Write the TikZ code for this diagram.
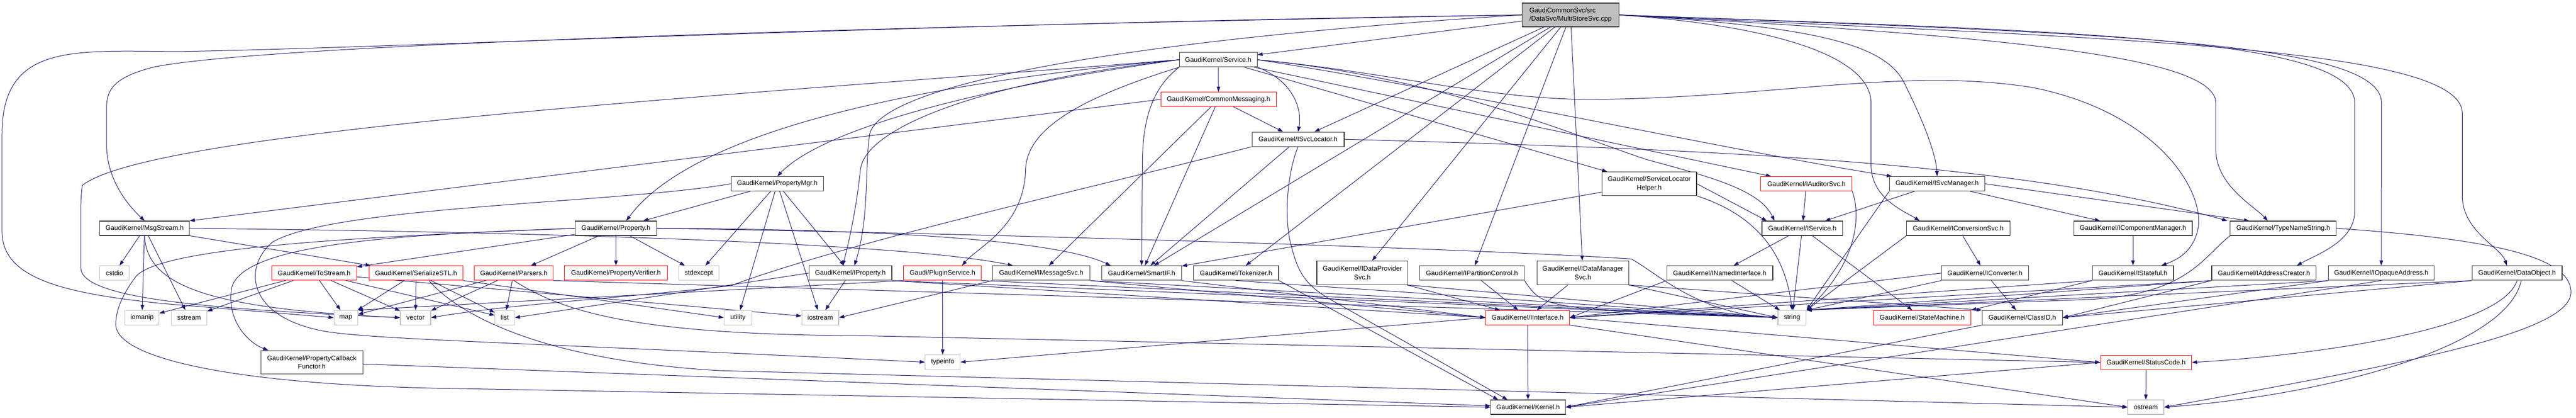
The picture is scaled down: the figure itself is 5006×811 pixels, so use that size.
\documentclass[tikz,border=0pt]{standalone}
\usepackage{fontspec}
\setmainfont{Liberation Sans}
\usetikzlibrary{arrows.meta,calc}
\definecolor{edgec}{HTML}{191970}
\definecolor{sysgray}{HTML}{BFBFBF}
\definecolor{rootfill}{HTML}{BFBFBF}
\pgfdeclarelayer{bg}
\pgfsetlayers{bg,main}
\begin{document}
\begin{tikzpicture}[x=1pt,y=-1pt,
  nb/.style={draw=black!80, line width=1.2pt, fill=white, inner sep=0pt, minimum height=28pt, text=black, font=\fontsize{12.9}{16.5}\selectfont, align=center},
  nred/.style={nb, draw=red, line width=1pt},
  nsys/.style={nb, draw=sysgray},
  nroot/.style={nb, fill=rootfill, align=left},
  e/.style={draw=edgec, line width=1pt, -{Triangle[length=10pt,width=7pt]}},
]
\useasboundingbox (0,0) rectangle (5006,811);

% ---------------- nodes ----------------
\node[nroot, minimum width=188pt, minimum height=46pt] (T) at (3052,29) {GaudiCommonSvc/src\\/DataSvc/MultiStoreSvc.cpp};
\node[nb, minimum width=151pt] (Service) at (2367.5,116) {GaudiKernel/Service.h};
\node[nred, minimum width=224pt] (CM) at (2368,193) {GaudiKernel/CommonMessaging.h};
\node[nb, minimum width=179pt] (ISvcLocator) at (2522.5,270.5) {GaudiKernel/ISvcLocator.h};
\node[nb, minimum width=179pt] (PropertyMgr) at (1510.5,357) {GaudiKernel/PropertyMgr.h};
\node[nb, minimum width=184pt, minimum height=46pt] (SLH) at (3205,357) {GaudiKernel/ServiceLocator\\Helper.h};
\node[nred, minimum width=177pt] (IAuditorSvc) at (3510.5,357) {GaudiKernel/IAuditorSvc.h};
\node[nb, minimum width=185pt] (ISvcManager) at (3764.5,357) {GaudiKernel/ISvcManager.h};
\node[nb, minimum width=174pt] (MsgStream) at (281,443.5) {GaudiKernel/MsgStream.h};
\node[nb, minimum width=158pt] (Property) at (1197,443.5) {GaudiKernel/Property.h};
\node[nb, minimum width=157pt] (IService) at (3502.5,443.5) {GaudiKernel/IService.h};
\node[nb, minimum width=201pt] (IConversionSvc) at (3805.5,443.5) {GaudiKernel/IConversionSvc.h};
\node[nb, minimum width=230pt] (IComponentManager) at (4145,443.5) {GaudiKernel/IComponentManager.h};
\node[nb, minimum width=206pt] (TypeNameString) at (4437,443.5) {GaudiKernel/TypeNameString.h};
\node[nsys, minimum width=57pt] (cstdio) at (222.5,530.5) {cstdio};
\node[nred, minimum width=165pt] (ToStream) at (610.5,530.5) {GaudiKernel/ToStream.h};
\node[nred, minimum width=183pt] (SerializeSTL) at (808.5,530.5) {GaudiKernel/SerializeSTL.h};
\node[nred, minimum width=153pt] (Parsers) at (998.5,530.5) {GaudiKernel/Parsers.h};
\node[nred, minimum width=200pt] (PropertyVerifier) at (1197,530.5) {GaudiKernel/PropertyVerifier.h};
\node[nsys, minimum width=78pt] (stdexcept) at (1358,530.5) {stdexcept};
\node[nb, minimum width=161pt] (IProperty) at (1652.5,530.5) {GaudiKernel/IProperty.h};
\node[nred, minimum width=151pt] (PluginService) at (1831.5,530.5) {Gaudi/PluginService.h};
\node[nb, minimum width=189pt] (IMessageSvc) at (2023.5,530.5) {GaudiKernel/IMessageSvc.h};
\node[nb, minimum width=155pt] (SmartIF) at (2218.5,530.5) {GaudiKernel/SmartIF.h};
\node[nb, minimum width=166pt] (Tokenizer) at (2402,530.5) {GaudiKernel/Tokenizer.h};
\node[nb, minimum width=177pt, minimum height=46pt] (IDataProviderSvc) at (2647.5,530) {GaudiKernel/IDataProvider\\Svc.h};
\node[nb, minimum width=203pt] (IPartitionControl) at (2860.5,530.5) {GaudiKernel/IPartitionControl.h};
\node[nb, minimum width=178pt, minimum height=46pt] (IDataManagerSvc) at (3076,530) {GaudiKernel/IDataManager\\Svc.h};
\node[nb, minimum width=206pt] (INamedInterface) at (3342,530.5) {GaudiKernel/INamedInterface.h};
\node[nb, minimum width=169pt] (IConverter) at (3857.5,530.5) {GaudiKernel/IConverter.h};
\node[nb, minimum width=158pt] (IStateful) at (4145,530.5) {GaudiKernel/IStateful.h};
\node[nb, minimum width=203pt] (IAddressCreator) at (4399.5,530.5) {GaudiKernel/IAddressCreator.h};
\node[nb, minimum width=205pt] (IOpaqueAddress) at (4627.5,530.5) {GaudiKernel/IOpaqueAddress.h};
\node[nb, minimum width=175pt] (DataObject) at (4891.5,530.5) {GaudiKernel/DataObject.h};
\node[nsys, minimum width=66pt] (iomanip) at (276,617) {iomanip};
\node[nsys, minimum width=69pt] (sstream) at (367.5,617) {sstream};
\node[nsys, minimum width=46pt] (map) at (672,617) {map};
\node[nsys, minimum width=59pt] (vector) at (807.5,617) {vector};
\node[nsys, minimum width=38pt] (list) at (981,617) {list};
\node[nsys, minimum width=54pt] (utility) at (1434,617) {utility};
\node[nsys, minimum width=72pt] (iostream) at (1594,617) {iostream};
\node[nred, minimum width=163pt] (IInterface) at (2968.5,617) {GaudiKernel/IInterface.h};
\node[nsys, minimum width=55pt] (string) at (3482.5,617) {string};
\node[nred, minimum width=189pt] (StateMachine) at (3735.5,617) {GaudiKernel/StateMachine.h};
\node[nb, minimum width=156pt] (ClassID) at (3930,617) {GaudiKernel/ClassID.h};
\node[nb, minimum width=198pt, minimum height=45pt] (PCF) at (606,703.5) {GaudiKernel/PropertyCallback\\Functor.h};
\node[nsys, minimum width=68pt] (typeinfo) at (1832,703.5) {typeinfo};
\node[nred, minimum width=177pt] (StatusCode) at (4170.5,704) {GaudiKernel/StatusCode.h};
\node[nb, minimum width=145pt] (Kernel) at (2969.5,791) {GaudiKernel/Kernel.h};
\node[nsys, minimum width=70pt] (ostream) at (4170,791) {ostream};

% ---------------- edges ----------------
\begin{pgfonlayer}{bg}
\foreach \a/\b in {T/Service, T/ISvcLocator, T/SmartIF, T/Tokenizer, T/IDataProviderSvc, T/IPartitionControl, T/IDataManagerSvc,
  Service/CM, Service/SLH, Service/IAuditorSvc, CM/IMessageSvc, CM/SmartIF, CM/ISvcLocator, ISvcLocator/SmartIF,
  PropertyMgr/Property, PropertyMgr/IProperty, PropertyMgr/stdexcept, PropertyMgr/utility, PropertyMgr/iostream,
  IAuditorSvc/IService, ISvcManager/IComponentManager, ISvcManager/IService,
  MsgStream/SerializeSTL, MsgStream/cstdio, MsgStream/iomanip, MsgStream/sstream,
  Property/Parsers, Property/PropertyVerifier, Property/stdexcept, Property/ToStream, IProperty/iostream,
  ToStream/iomanip, ToStream/sstream, ToStream/map, ToStream/vector, ToStream/list, ToStream/iostream,
  SerializeSTL/map, SerializeSTL/vector, SerializeSTL/list, Parsers/vector, Parsers/map, Parsers/list,
  PluginService/typeinfo, IDataProviderSvc/IInterface, IPartitionControl/IInterface, IDataManagerSvc/IInterface,
  IService/INamedInterface, IService/StateMachine, IService/string, INamedInterface/string,
  IConversionSvc/IConverter, IConverter/ClassID, IComponentManager/IStateful, IInterface/Kernel,
  StatusCode/ostream, PCF/Kernel, SLH/SmartIF}
  \draw[e] (\a) -- (\b);

\draw[e] (CM.west) -- (MsgStream.north east);
\draw[e] (SLH.east) -- ($(IService.north west)+(10,0)$);
\draw[e] (ISvcManager.east) -- ($(TypeNameString.north)+(-66,0)$);
\draw[e] (ISvcManager.south west) -- (string.north east);
\draw[e] (IProperty.west) -- (list.east);
\draw[e] (IProperty.south east) -- (IInterface.west);
\draw[e] (IProperty.south east) -- (string.west);
\draw[e] (SerializeSTL.south east) -- (utility.west);
\draw[e] (Parsers.south east) -- (string.west);
\draw[e] (PluginService.south east) -- (string.west);
\draw[e] (PluginService.south west) -- (map.north east);
\draw[e] (IMessageSvc.south east) -- (IInterface.west);
\draw[e] (IMessageSvc.south east) -- (string.west);
\draw[e] (IMessageSvc.south west) -- (iostream.east);
\draw[e] (SmartIF.south east) -- (IInterface.west);
\draw[e] (Tokenizer.south east) -- ($(Kernel.north west)+(15,0)$);
\draw[e] (Tokenizer.south) -- (string.west);
\draw[e] (IDataProviderSvc.south east) -- (string.west);
\draw[e] (IPartitionControl.south east) .. controls (3000,600) .. (string.west);
\draw[e] (IDataManagerSvc.south east) -- (string.west);
\draw[e] (IDataManagerSvc.south east) -- (ClassID.north west);
\draw[e] (INamedInterface.south west) -- (IInterface.east);
\draw[e] (IConversionSvc.south west) -- (string.north east);
\draw[e] (IConverter.west) -- (IInterface.east);
\draw[e] (IConverter.south west) -- (string.north east);
\draw[e] (IStateful.south west) -- (IInterface.east);
\draw[e] (IStateful.south west) -- (StateMachine.north east);
\draw[e] (IAddressCreator.south west) -- (IInterface.east);
\draw[e] (IAddressCreator.south west) -- (ClassID.east);
\draw[e] (IAddressCreator.south west) -- (string.north east);
\draw[e] (IOpaqueAddress.south) -- (Kernel.east);
\draw[e] (IOpaqueAddress.south west) -- (string.north east);
\draw[e] (IOpaqueAddress.south west) -- (ClassID.east);
\draw[e] (DataObject.south west) -- (ClassID.east);
\draw[e] (DataObject.south west) -- (string.north east);
\draw[e] (IInterface.east) -- (StatusCode.west);
\draw[e] (IInterface.west) -- (typeinfo.east);
\draw[e] (IInterface.south east) -- (ostream.west);
\draw[e] (StatusCode.west) -- (Kernel.east);
\draw[e] (ClassID.south west) -- (Kernel.east);

% curved routes from the root
\draw[e] (T.west) .. controls (1800,45) and (700,95) .. (350,100) .. controls (150,100) and (4,80) .. (4,260) -- (4,450) .. controls (4,540) and (120,570) .. (320,590) -- (map.west);
\draw[e] (T.west) .. controls (1500,55) and (500,90) .. (300,130) .. controls (220,150) and (207,175) .. (207,210) -- (207,280) .. controls (207,350) and (250,400) .. (MsgStream.north);
\draw[e] (T.west) .. controls (2300,70) and (1720,150) .. (1690,260) .. controls (1680,330) and (1690,420) .. ($(IProperty.north)+(8,0)$);
\draw[e] (T.east) .. controls (3500,50) and (3660,80) .. (3700,160) .. controls (3740,240) and (3762,300) .. (ISvcManager.north);
\draw[e] (T.east) .. controls (3450,50) and (3636,110) .. (3636,200) -- (3636,320) .. controls (3636,385) and (3700,410) .. ($(IConversionSvc.north)+(-75,0)$);
\draw[e] (T.east) .. controls (3900,70) and (4306,110) .. (4306,200) -- (4306,290) .. controls (4306,360) and (4380,400) .. ($(TypeNameString.north)+(-30,0)$);
\draw[e] (T.east) .. controls (4000,60) and (4576,70) .. (4576,200) -- (4576,410) .. controls (4576,470) and (4500,495) .. ($(IAddressCreator.north)+(64,0)$);
\draw[e] (T.east) .. controls (4100,65) and (4628,80) .. (4628,200) -- (IOpaqueAddress.north);
\draw[e] (T.east) .. controls (4100,75) and (4785,90) .. (4785,220) -- (4785,380) .. controls (4785,450) and (4860,480) .. ($(DataObject.north)+(-20,0)$);

% curved routes from Service.h
\draw[e] (Service.west) .. controls (1500,180) and (300,250) .. (160,360) .. controls (157,380) and (157,400) .. (157,420) -- (157,520) .. controls (157,580) and (400,600) .. (vector.west);
\draw[e] (Service.east) .. controls (2700,140) and (2900,195) .. (3100,193) .. controls (3450,190) and (3700,130) .. (3950,170) .. controls (4200,220) and (4290,380) .. (4270,450) .. controls (4260,490) and (4230,505) .. ($(IStateful.north)+(55,0)$);
\draw[e] (Service.east) .. controls (2800,170) and (3400,300) .. ($(ISvcManager.north west)+(5,0)$);
\draw[e] (Service.east) .. controls (2800,150) and (3050,260) .. (3200,310) .. controls (3330,345) and (3420,370) .. ($(IService.north west)+(25,0)$);
\draw[e] (Service.west) .. controls (1900,170) and (1600,250) .. (PropertyMgr.north);
\draw[e] (Service.west) .. controls (1800,160) and (1350,250) .. ($(Property.north)+(20,0)$);
\draw[e] (Service.west) .. controls (1900,160) and (1680,250) .. (1672,330) .. controls (1665,400) and (1650,470) .. ($(IProperty.north)+(-15,0)$);
\draw[e] (Service.south west) .. controls (2100,190) and (1995,250) .. (1993,330) .. controls (1990,440) and (1900,480) .. ($(PluginService.north)+(38,0)$);
\draw[e] (Service.south west) .. controls (2240,170) and (2220,230) .. (2220,320) -- (SmartIF.north);
\draw[e] (Service.south east) .. controls (2520,160) and (2530,220) .. (ISvcLocator.north);

% other curved routes
\draw[e] (ISvcLocator.south west) .. controls (2100,370) and (1650,470) .. (1420,555) .. controls (1200,580) and (1000,590) .. (vector.east);
\draw[e] (ISvcLocator.east) .. controls (3300,290) and (3900,310) .. ($(TypeNameString.north west)+(-5,0)$);
\draw[e] (ISvcLocator.south) .. controls (2500,340) and (2495,430) .. (2510,480) .. controls (2525,540) and (2545,560) .. (2600,590) -- ($(Kernel.north)+(-40,0)$);
\draw[e] (PropertyMgr.west) .. controls (1200,395) and (650,400) .. (530,470) .. controls (470,520) and (480,620) .. (640,645) .. controls (750,660) and (1000,665) .. (typeinfo.west);
\draw[e] (Property.west) .. controls (800,455) and (470,470) .. (450,560) .. controls (440,620) and (480,665) .. ($(PCF.north west)+(15,0)$);
\draw[e] (Property.west) .. controls (700,460) and (300,480) .. (262,540) .. controls (240,570) and (225,600) .. (225,630) .. controls (225,700) and (480,750) .. (900,755) -- (Kernel.west);
\draw[e] (Property.east) .. controls (1700,445) and (2050,465) .. ($(SmartIF.north)+(-60,0)$);
\draw[e] (Property.east) .. controls (2000,455) and (2900,485) .. (3170,503) .. controls (3220,530) and (3300,610) .. (string.west);
\draw[e] ($(SerializeSTL.south)+(25,0)$) .. controls (890,610) and (1050,700) .. (1400,720) -- (ostream.west);
\draw[e] (Parsers.south) .. controls (1100,610) and (1250,650) .. (1670,652) -- (StatusCode.west);
\draw[e] (MsgStream.east) .. controls (1000,450) and (1750,470) .. ($(IMessageSvc.north west)+(40,0)$);
\draw[e] (MsgStream.south) .. controls (285,560) and (420,600) .. (vector.west);
\draw[e] (TypeNameString.south west) .. controls (4280,500) and (4250,575) .. (4050,582) -- (string.north east);
\draw[e] (TypeNameString.east) .. controls (4850,465) and (5000,500) .. (4996,570) .. controls (4990,650) and (4650,710) .. (ostream.east);
\draw[e] (DataObject.south) .. controls (4860,640) and (4500,690) .. (StatusCode.east);
\draw[e] ($(DataObject.south)+(8,0)$) .. controls (4870,680) and (4500,770) .. (ostream.east);
\draw[e] (IAuditorSvc.south east) .. controls (3620,430) and (3600,520) .. (string.north east);
\draw[e] (SLH.south east) .. controls (3420,420) and (3470,500) .. (string.north);
\end{pgfonlayer}
\end{tikzpicture}
\end{document}
